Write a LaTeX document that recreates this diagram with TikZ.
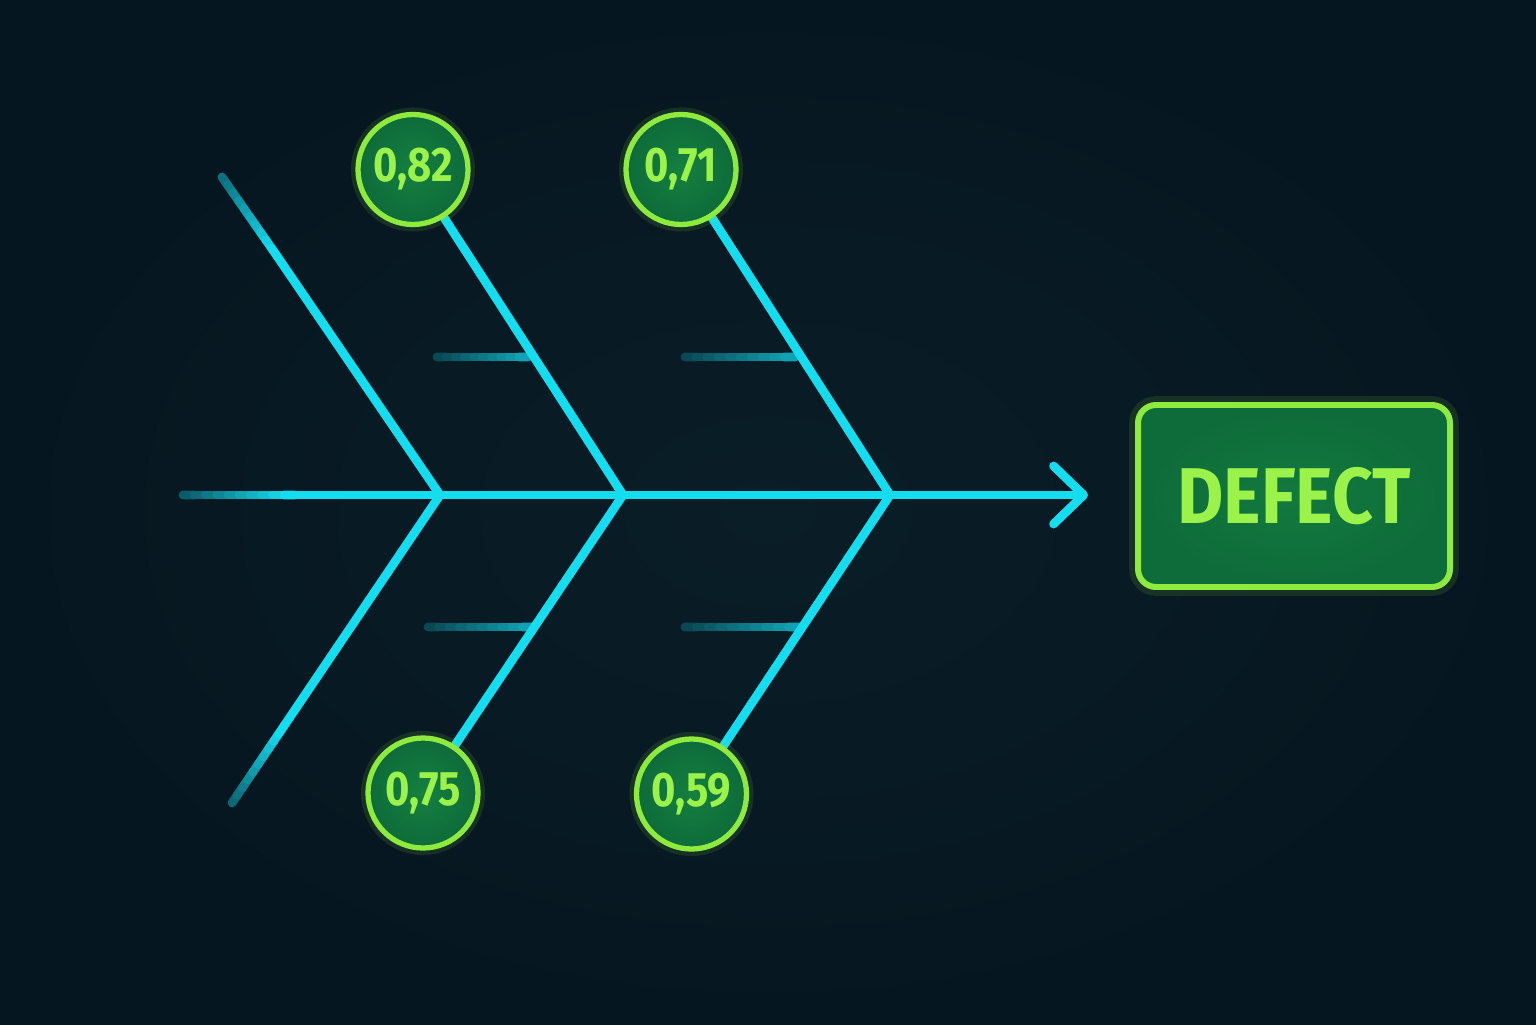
\documentclass[tikz,border=0pt]{standalone}
\usepackage{fontspec}
\usetikzlibrary{arrows.meta,calc}
\newfontfamily\scorefont[FakeStretch=0.86]{Fira Sans}
\newfontfamily\defectfont[FakeStretch=0.90]{Fira Sans}

\definecolor{bg}{HTML}{061620}
\definecolor{bgmid}{HTML}{0A1E27}
\definecolor{bone}{HTML}{14DDF0}
\definecolor{lime}{HTML}{8EEB3E}
\definecolor{leaf}{HTML}{0E6B3A}
\definecolor{leaflit}{HTML}{14803F}
\definecolor{limetext}{HTML}{9BF24A}

\tikzset{
  bone/.style={draw=bone, line width=2.5pt, line cap=round, line join=round},
  bonefade/.style={line width=2.5pt, line cap=round},
  score/.style={circle, draw=lime, line width=1.5pt, inner color=leaflit, outer color=leaf,
    minimum size=1.1cm, inner sep=0pt, text=limetext,
    font=\scorefont\bfseries\fontsize{13.8}{14}\selectfont,
    preaction={draw=lime, line width=4pt, opacity=0.12}},
  effect/.style={rectangle, rounded corners=0.18cm, draw=lime, line width=1.7pt,
    inner color=leaflit!70!leaf, outer color=leaf, minimum width=3.12cm, minimum height=1.82cm,
    text=limetext, font=\defectfont\bfseries\fontsize{22.5}{23}\selectfont,
    preaction={draw=lime, line width=5pt, opacity=0.12}}
}

% dim-to-bright segment
\newcommand\fadeline[4]{%
  \foreach \k in {0,...,9}{%
    \pgfmathsetmacro\pc{#3+(#4-#3)*\k/9}
    \draw[bonefade, draw=bone!\pc!bg] ($(#1)!\k/10!(#2)$) -- ($(#1)!{(\k+1)/10}!(#2)$);
  }}

\begin{document}
\begin{tikzpicture}
\shade[inner color=bgmid, outer color=bg] (0,0) rectangle (15.36,10.24);

% spine
\coordinate (tail) at (1.83,5.29);
\coordinate (lit) at (2.95,5.29);
\coordinate (j1) at (4.40,5.29);
\coordinate (j2) at (6.23,5.29);
\coordinate (j3) at (8.90,5.29);
\coordinate (tip) at (10.88,5.29);

% bone ends
\coordinate (b1t) at (2.22,8.47);
\coordinate (b1tl) at (2.77,7.68);
\coordinate (b1b) at (2.32,2.21);
\coordinate (b1bl) at (2.84,2.98);

% circle centres
\coordinate (p82) at (4.13,8.545);
\coordinate (p71) at (6.81,8.545);
\coordinate (p75) at (4.23,2.31);
\coordinate (p59) at (6.915,2.30);

% tick ends
\coordinate (t1a) at (4.37,6.67);
\coordinate (t1b) at (5.28,6.67);
\coordinate (t2a) at (6.85,6.67);
\coordinate (t2b) at (7.95,6.67);
\coordinate (t3a) at (4.28,3.97);
\coordinate (t3b) at (5.33,3.97);
\coordinate (t4a) at (6.85,3.97);
\coordinate (t4b) at (8.00,3.97);

\fadeline{tail}{lit}{35}{100}
\fadeline{b1t}{b1tl}{45}{100}
\fadeline{b1b}{b1bl}{40}{100}
\fadeline{t1a}{t1b}{25}{70}
\fadeline{t2a}{t2b}{25}{70}
\fadeline{t3a}{t3b}{25}{70}
\fadeline{t4a}{t4b}{25}{70}

\draw[bone] (b1tl) -- (j1) -- (b1bl);
\draw[bone] (p82) -- (j2) -- (p75);
\draw[bone] (p71) -- (j3) -- (p59);
\draw[bone, -{Straight Barb[length=3.0mm, width=5.8mm, line cap=round, line join=round]}] (lit) -- (tip);

\node[score] (c82) at (p82) {0,82};
\node[score] (c71) at (p71) {0,71};
\node[score] (c75) at (p75) {0,75};
\node[score] (c59) at (p59) {0,59};

\node[effect] (defect) at (12.94,5.28) {DEFECT};
\end{tikzpicture}
\end{document}
